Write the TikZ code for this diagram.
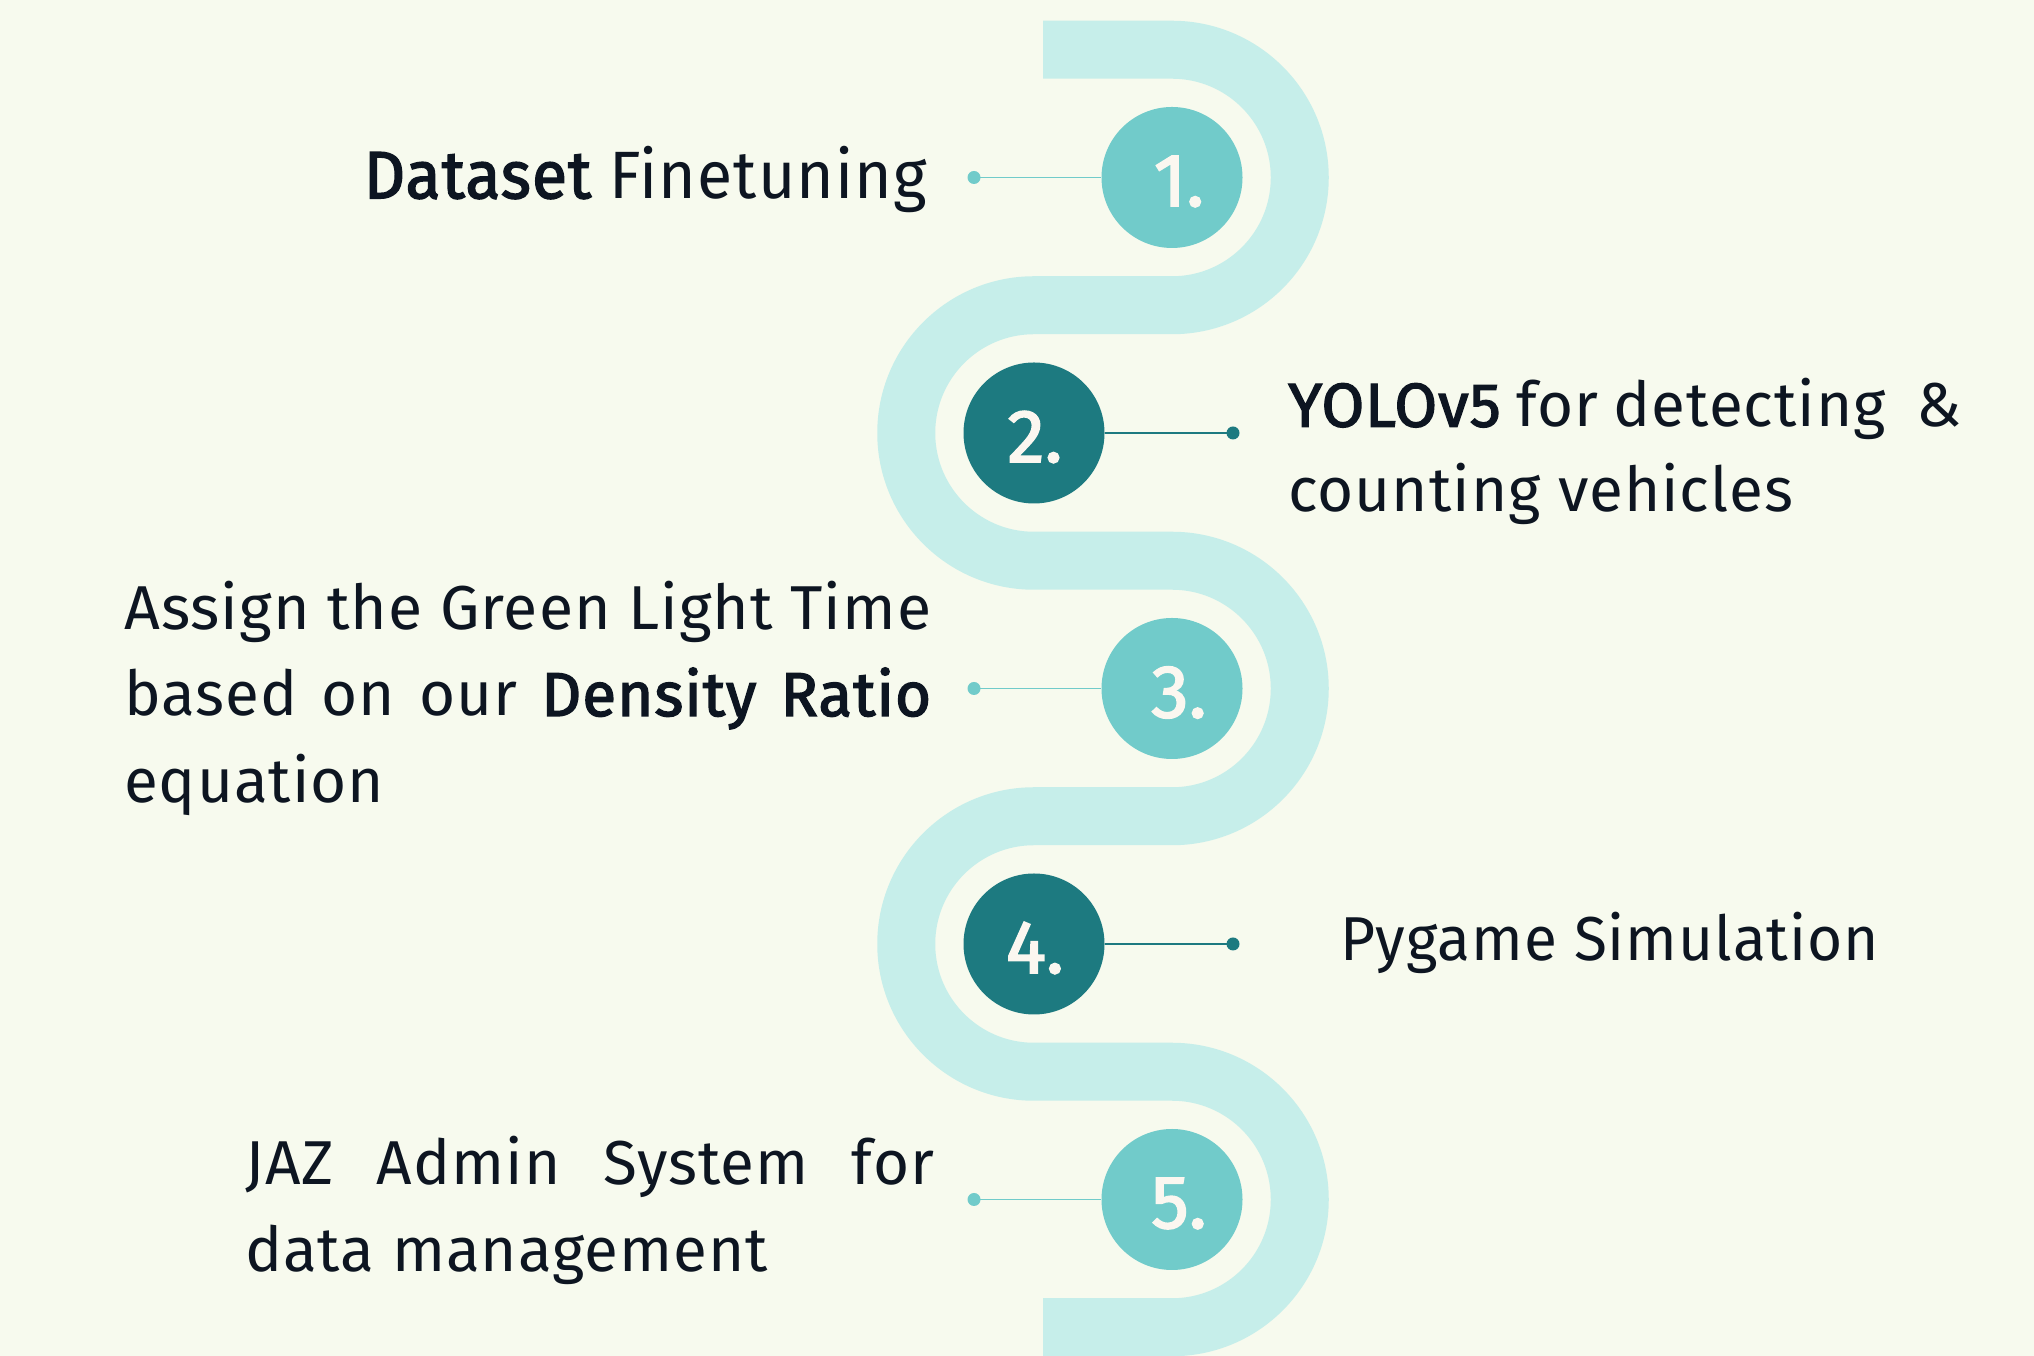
\documentclass[tikz,border=0pt]{standalone}
\usepackage{fontspec}
\setmainfont{Fira Sans}[LetterSpace=1.6]
\newfontfamily\semibold{Fira Sans}[LetterSpace=1.6, FakeBold=2.2]
\newfontfamily\numfont{Fira Sans}[FakeBold=2.2]
\usepackage{graphicx}

\definecolor{paper}{HTML}{F7FAEE}
\definecolor{band}{HTML}{C6EEEA}
\definecolor{lightstep}{HTML}{71CBCA}
\definecolor{darkstep}{HTML}{1D7A80}
\definecolor{ink}{HTML}{0D1521}
\definecolor{numink}{HTML}{FBF7F0}

% emphasised words
\newcommand\keyword[1]{{\semibold #1}}
% set a line of text scaled horizontally to an exact width (in pt)
\newsavebox\linebox
\newcommand\fitto[2]{\sbox\linebox{#2}\pgfmathsetmacro\fitfac{#1/\the\wd\linebox}\scalebox{\fitfac}[1]{\usebox\linebox}}
% set a line of text with its spaces stretched to an exact width (in pt)
\newcommand\spreadto[2]{\makebox[#1pt][s]{#2}}

\tikzset{
  stepcircle/.style={circle, minimum size=141pt, inner sep=0pt},
  lightcircle/.style={stepcircle, fill=lightstep},
  darkcircle/.style={stepcircle, fill=darkstep},
  numtext/.style={text=numink, inner sep=0pt, font=\fontsize{75}{80}\numfont},
  dotlight/.style={circle, fill=lightstep, minimum size=13pt, inner sep=0pt},
  dotdark/.style={circle, fill=darkstep, minimum size=13pt, inner sep=0pt},
  linklight/.style={draw=lightstep, line width=1.5pt},
  linkdark/.style={draw=darkstep, line width=1.5pt},
  txt/.style={text=ink, inner sep=0pt, font=\fontsize{62}{72}\selectfont},
  bigtxt/.style={text=ink, inner sep=0pt, font=\fontsize{67}{78}\selectfont},
}

\begin{document}
\begin{tikzpicture}[x=1pt, y=1pt]
  % page
  \fill[paper] (0,0) rectangle (2034,1356);
  \useasboundingbox (0,0) rectangle (2034,1356);

  % winding band
  \draw[band, line width=58pt, line cap=butt]
    (1043,1306.25) -- (1172,1306.25)
    arc[start angle=90, end angle=-90, radius=127.75] -- (1034,1050.75)
    arc[start angle=90, end angle=270, radius=127.75] -- (1172,795.25)
    arc[start angle=90, end angle=-90, radius=127.75] -- (1034,539.75)
    arc[start angle=90, end angle=270, radius=127.75] -- (1172,284.25)
    arc[start angle=90, end angle=-90, radius=127.75] -- (1043,28.75);

  % step circles
  \node[lightcircle] (n1) at (1172,1178.5) {};
  \node[darkcircle]  (n2) at (1034,923) {};
  \node[lightcircle] (n3) at (1172,667.5) {};
  \node[darkcircle]  (n4) at (1034,412) {};
  \node[lightcircle] (n5) at (1172,156.5) {};

  \node[numtext] (t1) at ([xshift=7pt,yshift=-4pt]n1.center) {1.};
  \node[numtext] (t2) at ([xshift=1pt,yshift=-4pt]n2.center) {2.};
  \node[numtext] (t3) at ([xshift=7pt,yshift=-4pt]n3.center) {3.};
  \node[numtext] (t4) at ([xshift=1pt,yshift=-4pt]n4.center) {4.};
  \node[numtext] (t5) at ([xshift=7pt,yshift=-4pt]n5.center) {5.};

  % leader dots and lines
  \node[dotlight] (d1) at (974,1178.5) {};
  \node[dotdark]  (d2) at (1233,923) {};
  \node[dotlight] (d3) at (974,667.5) {};
  \node[dotdark]  (d4) at (1233,412) {};
  \node[dotlight] (d5) at (974,156.5) {};

  \draw[linklight] (d1.center) -- (n1);
  \draw[linkdark]  (d2.center) -- (n2);
  \draw[linklight] (d3.center) -- (n3);
  \draw[linkdark]  (d4.center) -- (n4);
  \draw[linklight] (d5.center) -- (n5);

  % step texts
  \node[bigtxt, anchor=base east] (l1) at (927,1157.7)
    {\fitto{563}{\keyword{Dataset} Finetuning}};

  \node[txt, anchor=base west] (l2a) at (1288,929.3)
    {\spreadto{689}{\keyword{YOLOv5} for detecting \ \& }};
  \node[txt, anchor=base west] (l2b) at (1288,844.3)
    {counting vehicles};

  \node[txt, anchor=base west] (l3a) at (124,726)
    {\fitto{807}{Assign the Green Light Time}};
  \node[txt, anchor=base west] (l3b) at (124,640)
    {\spreadto{807}{based on our \keyword{Density Ratio}}};
  \node[txt, anchor=base west] (l3c) at (124,553.7)
    {equation};

  \node[txt, anchor=base west] (l4) at (1340,395.3)
    {\fitto{539}{Pygame Simulation}};

  \node[txt, anchor=base west] (l5a) at (245,171)
    {\spreadto{689}{JAZ Admin System for}};
  \node[txt, anchor=base west] (l5b) at (245,84.3)
    {data management};
\end{tikzpicture}
\end{document}
